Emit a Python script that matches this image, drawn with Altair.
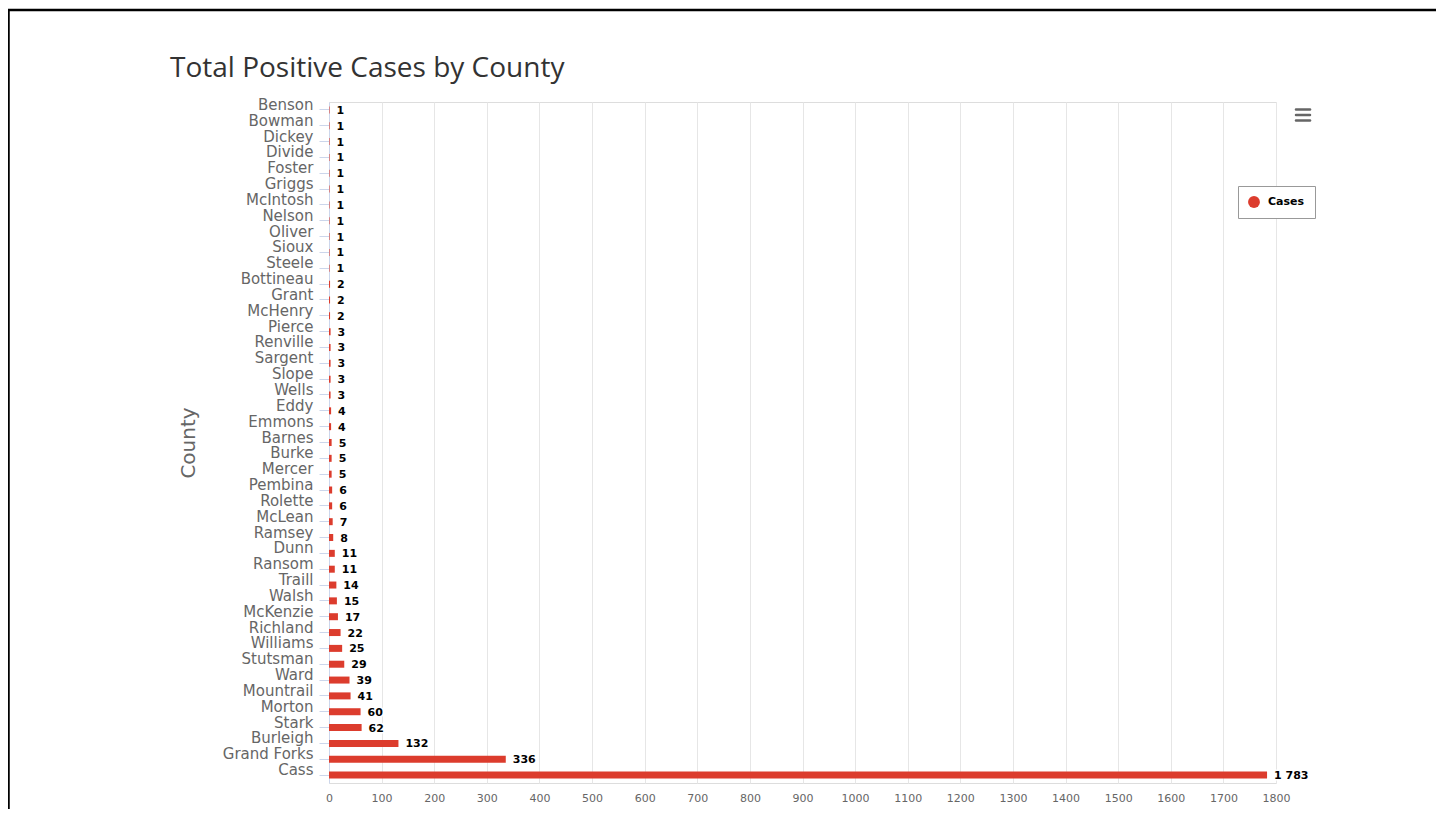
import altair as alt
import pandas as pd

counties = ["Benson", "Bowman", "Dickey", "Divide", "Foster", "Griggs", "McIntosh",
            "Nelson", "Oliver", "Sioux", "Steele", "Bottineau", "Grant", "McHenry",
            "Pierce", "Renville", "Sargent", "Slope", "Wells", "Eddy", "Emmons",
            "Barnes", "Burke", "Mercer", "Pembina", "Rolette", "McLean", "Ramsey",
            "Dunn", "Ransom", "Traill", "Walsh", "McKenzie", "Richland", "Williams",
            "Stutsman", "Ward", "Mountrail", "Morton", "Stark", "Burleigh",
            "Grand Forks", "Cass"]
cases = [1, 1, 1, 1, 1, 1, 1, 1, 1, 1, 1, 2, 2, 2, 3, 3, 3, 3, 3, 4, 4,
         5, 5, 5, 6, 6, 7, 8, 11, 11, 14, 15, 17, 22, 25, 29, 39, 41, 60, 62,
         132, 336, 1783]
x_ticks = list(range(0, 1801, 100))
series_name = "Cases"
bar_color = "#dc3c2d"

df = pd.DataFrame({"County": counties, "Cases": cases, "Series": series_name})

W, H = 947, 681

base = alt.Chart(df)

y_enc = alt.Y(
    "County:N",
    sort=counties,
    scale=alt.Scale(paddingInner=0, paddingOuter=0),
    title="County",
    axis=alt.Axis(
        labelFont="DejaVu Sans", labelFontSize=15, labelColor="#666666",
        labelOffset=-5, labelPadding=6, labelLimit=200,
        domain=True, domainColor="#ccd6eb", domainWidth=1,
        ticks=True, tickColor="#ccd6eb", tickSize=10,
        grid=False,
        titleFont="DejaVu Sans", titleFontSize=20, titleFontWeight="normal",
        titleColor="#666666", titleX=-141, titleAngle=-90,
        titleAlign="center", titleBaseline="middle",
    ),
)
x_enc = alt.X(
    "Cases:Q",
    scale=alt.Scale(domain=[0, 1800], nice=False, zero=True),
    title=None,
    axis=alt.Axis(
        values=x_ticks, format="d", grid=True, gridColor="#e6e6e6", gridWidth=1,
        domain=False, ticks=False,
        labelFont="DejaVu Sans", labelFontSize=11, labelColor="#666666",
        labelPadding=9, labelFlush=False,
    ),
)

bars = base.mark_bar(size=7).encode(
    x=x_enc,
    y=y_enc,
    color=alt.Color(
        "Series:N",
        scale=alt.Scale(domain=[series_name], range=[bar_color]),
        legend=alt.Legend(
            title=None, orient="none", legendX=909, legendY=84,
            symbolType="circle", symbolSize=140, symbolStrokeWidth=0,
            labelFont="DejaVu Sans", labelFontSize=11, labelFontWeight="bold",
            labelColor="#000000", labelOffset=8,
            strokeColor="#999999", fillColor="white",
            padding=10, cornerRadius=0,
        ),
    ),
)

label_halo = base.transform_calculate(
    lbl="replace(format(datum.Cases, ','), ',', ' ')"
).mark_text(
    align="left", baseline="middle", dx=7, dy=1,
    font="DejaVu Sans", fontSize=11, fontWeight="bold",
    stroke="white", strokeWidth=3, strokeJoin="round", fill="white",
).encode(x="Cases:Q", y=alt.Y("County:N", sort=counties), text="lbl:N")

labels = base.transform_calculate(
    lbl="replace(format(datum.Cases, ','), ',', ' ')"
).mark_text(
    align="left", baseline="middle", dx=7, dy=1,
    font="DejaVu Sans", fontSize=11, fontWeight="bold", color="#000000",
).encode(x="Cases:Q", y=alt.Y("County:N", sort=counties), text="lbl:N")

one = alt.Data(values=[{"k": 1}])

frame = alt.Chart(one).mark_rect(
    fill="white", fillOpacity=0, stroke="black", strokeWidth=2.5
).encode(
    x=alt.value(-320.5), x2=alt.value(1300),
    y=alt.value(-92), y2=alt.value(760),
)

menu = [
    alt.Chart(one).mark_rule(color="#666666", strokeWidth=2.5, strokeCap="round").encode(
        x=alt.value(967), x2=alt.value(981), y=alt.value(yy)
    )
    for yy in (7.5, 13, 18.5)
]

chart = alt.layer(bars, label_halo, labels, frame, *menu).properties(
    width=W,
    height=H,
    autosize=alt.AutoSizeParams(type="none"),
    padding={"left": 321, "top": 94, "right": 160, "bottom": 26},
    title=alt.TitleParams(
        "Total Positive Cases by County",
        anchor="start", frame="group", dx=-159, dy=121,
        font="Open Sans", fontSize=28, fontWeight="normal", color="#333333",
        baseline="alphabetic", offset=25,
    ),
).configure_view(strokeWidth=0, stroke="transparent", strokeOpacity=0).configure(background="white")

chart.save("out.html", embed_options={"renderer": "svg", "actions": False})
